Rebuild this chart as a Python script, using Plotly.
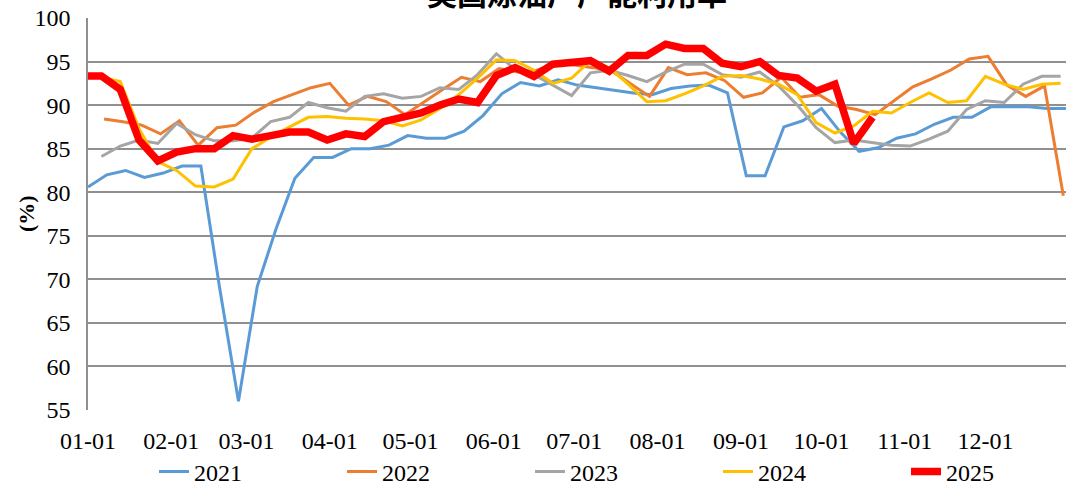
import plotly.graph_objects as go

# ---- data (weekly US refinery utilisation, %) ----
month_ticks = ["01-01", "02-01", "03-01", "04-01", "05-01", "06-01",
               "07-01", "08-01", "09-01", "10-01", "11-01", "12-01"]
month_start_day = [0, 31, 59, 90, 120, 151, 181, 212, 243, 273, 304, 334]

y2021 = [80.6, 82.0, 82.5, 81.7, 82.2, 83.0, 83.0, 69.0, 56.0, 69.2, 75.8, 81.6,
         84.0, 84.0, 85.0, 85.0, 85.4, 86.5, 86.2, 86.2, 87.0, 88.8, 91.3, 92.6,
         92.2, 92.9, 92.3, 92.0, 91.7, 91.4, 91.2, 91.9, 92.2, 92.3, 91.4, 81.9,
         81.9, 87.5, 88.2, 89.6, 86.9, 84.7, 85.1, 86.2, 86.7, 87.8, 88.6, 88.6,
         89.8, 89.8, 89.8, 89.6, 89.6]
y2022 = [88.4, 88.1, 87.7, 86.7, 88.2, 85.4, 87.4, 87.7, 89.2, 90.4, 91.2, 92.0,
         92.5, 90.0, 91.0, 90.4, 88.9, 90.4, 91.8, 93.2, 92.7, 94.2, 93.8, 94.0,
         94.8, 94.6, 94.3, 93.9, 92.4, 91.0, 94.3, 93.5, 93.7, 92.8, 90.9, 91.4,
         93.2, 90.9, 91.2, 89.9, 89.5, 88.9, 90.5, 92.1, 93.0, 94.0, 95.3, 95.6,
         92.3, 91.0, 92.2, 79.6]
y2023 = [84.1, 85.3, 86.0, 85.6, 87.9, 86.6, 85.9, 85.9, 86.2, 88.1, 88.6, 90.3,
         89.7, 89.3, 91.0, 91.3, 90.8, 91.0, 92.0, 91.8, 93.5, 95.9, 94.1, 93.5,
         92.3, 91.1, 93.7, 94.0, 93.4, 92.7, 93.8, 94.7, 94.7, 93.5, 93.2, 93.8,
         92.2, 90.0, 87.4, 85.7, 86.0, 85.7, 85.4, 85.3, 86.1, 87.0, 89.5, 90.5,
         90.3, 92.4, 93.3, 93.3]
y2024 = [93.2, 92.7, 87.3, 83.5, 82.5, 80.7, 80.6, 81.5, 85.0, 86.3, 87.5, 88.6,
         88.7, 88.5, 88.4, 88.2, 87.6, 88.3, 89.6, 91.2, 93.1, 95.2, 95.1, 94.0,
         92.5, 93.1, 95.1, 94.3, 92.4, 90.4, 90.5, 91.3, 92.2, 93.3, 93.4, 93.0,
         92.4, 91.2, 88.0, 86.8, 87.6, 89.3, 89.1, 90.3, 91.4, 90.3, 90.5, 93.3,
         92.4, 91.8, 92.4, 92.5]
y2025 = [93.35, 93.35, 91.8, 86.0, 83.6, 84.6, 85.0, 85.0, 86.5, 86.1, 86.5, 86.9,
         86.9, 86.0, 86.7, 86.4, 88.1, 88.6, 89.1, 90.0, 90.7, 90.3, 93.4, 94.3,
         93.3, 94.7, 94.8, 95.1, 93.9, 95.7, 95.7, 97.0, 96.5, 96.5, 94.8, 94.4,
         95.0, 93.4, 93.1, 91.6, 92.4, 85.6, 88.6]

# first report day (day-of-year) of each year's weekly series
first_day = {"2021": 0, "2022": 6, "2023": 5, "2024": 5, "2025": 5}

def week_days(start, n):
    return [start + 7 * i for i in range(n)]

x2021 = week_days(first_day["2021"], len(y2021))
x2022 = week_days(first_day["2022"], len(y2022))
x2023 = week_days(first_day["2023"], len(y2023))
x2024 = week_days(first_day["2024"], len(y2024))
x2025 = [0] + week_days(first_day["2025"], len(y2025) - 1)

series = [
    ("2021", x2021, y2021, "#5B9BD5", 3),
    ("2022", x2022, y2022, "#ED7D31", 3),
    ("2023", x2023, y2023, "#A5A5A5", 3),
    ("2024", x2024, y2024, "#FFC000", 3),
    ("2025", x2025, y2025, "#FF0000", 7.5),
]

fig = go.Figure()
for name, xs, ys, color, w in series:
    fig.add_trace(go.Scatter(x=xs, y=ys, name=name, mode="lines",
                             line=dict(color=color, width=w)))

serif = "Liberation Serif, Times New Roman, serif"

fig.update_layout(
    width=1066, height=487,
    margin=dict(l=88, r=0, t=18, b=77, autoexpand=False),
    paper_bgcolor="white", plot_bgcolor="white",
    showlegend=True,
    legend=dict(orientation="h", x=(154 - 88) / 978, xanchor="left",
                y=(410 - 472) / 392, yanchor="middle",
                font=dict(family=serif, size=24, color="black"),
                entrywidth=143, entrywidthmode="pixels", traceorder="normal",
                bgcolor="rgba(0,0,0,0)"),
    font=dict(family=serif, color="black"),
)

fig.update_xaxes(
    range=[0, 364], tickmode="array", tickvals=month_start_day, ticktext=month_ticks,
    showgrid=False, zeroline=False, showline=False, ticks="",
    tickfont=dict(family=serif, size=24, color="black"), ticklabelstandoff=14,
    automargin=False,
)
fig.update_yaxes(
    range=[55, 100], dtick=5, tick0=55,
    showgrid=True, gridcolor="#909090", gridwidth=1.5,
    showline=True, linecolor="#909090", linewidth=1.5,
    zeroline=False, ticks="",
    tickfont=dict(family=serif, size=24, color="black"), ticklabelstandoff=11,
    automargin=False,
)

# y-axis unit label
fig.add_annotation(
    text="<b>(%)</b>", xref="paper", yref="paper", x=(26 - 88) / 978, y=0.5,
    xanchor="center", yanchor="middle", textangle=-90, showarrow=False,
    font=dict(family=serif, size=22, color="black"),
)

# chart title (partly outside the top edge, as in the original)
fig.add_annotation(
    text="<b>美国炼油厂产能利用率</b>", xref="paper", yref="paper", x=0.5, y=1,
    xanchor="center", yanchor="bottom", yshift=2, showarrow=False,
    font=dict(family="Noto Sans CJK SC", size=30, color="black"),
)

fig.write_html("out.html", config={"displayModeBar": False},
               post_script="document.body.style.margin='0';")
